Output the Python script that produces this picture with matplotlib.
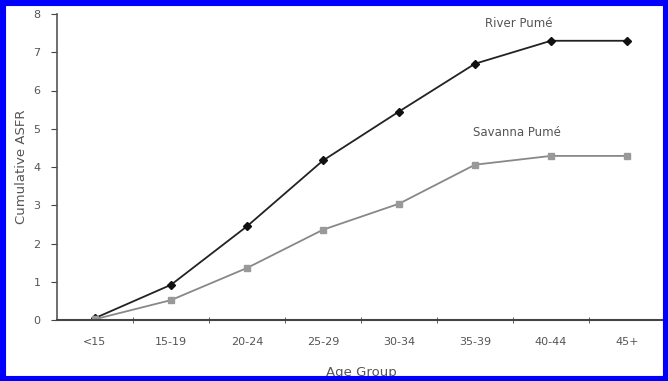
import matplotlib
matplotlib.use("Agg")
import matplotlib.pyplot as plt
from matplotlib.patches import Rectangle
import numpy as np

categories = ["<15", "15-19", "20-24", "25-29", "30-34", "35-39", "40-44", "45+"]
river = [0.05, 0.92, 2.45, 4.17, 5.45, 6.70, 7.30, 7.30]
savanna = [0.02, 0.52, 1.36, 2.36, 3.04, 4.06, 4.29, 4.29]
yticks = [0, 1, 2, 3, 4, 5, 6, 7, 8]

fig = plt.figure(figsize=(6.68, 3.81), dpi=100)
ax = fig.add_axes([57/668, 61/381, 608/668, 306/381])

x = np.arange(len(categories))
ax.plot(x, river, color="#222222", lw=1.3, marker="D", ms=4, mfc="#111111", mec="#111111")
ax.plot(x, savanna, color="#888888", lw=1.3, marker="s", ms=4.5, mfc="#999999", mec="#999999")

ax.set_xlim(-0.5, 7.5)
ax.set_ylim(0, 8)
ax.set_yticks(yticks)
ax.set_xticks(x)
ax.set_xticklabels(categories)
ax.set_xticks(np.arange(0.5, 7.5, 1), minor=True)
ax.tick_params(axis="x", which="major", length=0, pad=12, labelsize=8, labelcolor="#555555")
ax.tick_params(axis="x", which="minor", length=4, direction="inout", color="#444444")
ax.tick_params(axis="y", length=4, direction="out", labelsize=8, labelcolor="#555555", color="#444444", pad=8)
for s in ["top", "right"]:
    ax.spines[s].set_visible(False)
ax.spines["left"].set_color("#555555")
ax.spines["bottom"].set_color("#444444")
ax.spines["left"].set_linewidth(1.2)
ax.spines["bottom"].set_linewidth(1.5)

ax.set_xlabel("Age Group", fontsize=9.5, color="#555555", labelpad=14)
ax.set_ylabel("Cumulative ASFR", fontsize=9.5, color="#555555", labelpad=4)

ax.text(5.57, 7.75, "River Pumé", fontsize=8.5, color="#555555", ha="center", va="center")
ax.text(5.55, 4.9, "Savanna Pumé", fontsize=8.5, color="#555555", ha="center", va="center")

fig.patches.append(Rectangle((0, 0), 1, 1, transform=fig.transFigure, fill=False,
                             edgecolor="#0000ff", lw=8, zorder=10))

fig.savefig("out.png", dpi=100)
